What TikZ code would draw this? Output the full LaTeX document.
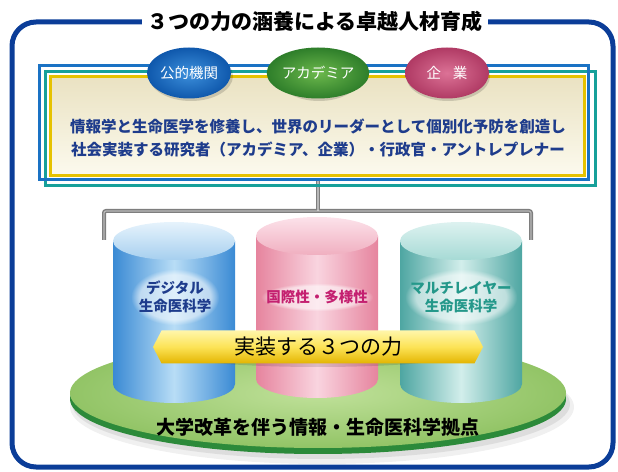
\documentclass[tikz,border=0pt]{standalone}
\usepackage{fontspec}
\setmainfont{Noto Sans CJK JP}
\usetikzlibrary{shapes.geometric,shapes.symbols,fadings}

\definecolor{frameblue}{HTML}{0B3D98}
\definecolor{lineblue}{HTML}{1A72C4}
\definecolor{lineteal}{HTML}{17A09A}
\definecolor{lineyellow}{HTML}{E6C200}
\definecolor{creamtop}{HTML}{EAE2C2}
\definecolor{creambot}{HTML}{FCFAEE}
\definecolor{textblue}{HTML}{1E3C8C}
\definecolor{textpink}{HTML}{C42070}
\definecolor{textteal}{HTML}{24988A}
\definecolor{pipegray}{HTML}{7E7E7E}
\definecolor{rimgreen}{HTML}{2C8A3A}
\definecolor{padin}{HTML}{C0E19A}
\definecolor{padout}{HTML}{92C466}
\definecolor{bannertop}{HTML}{FFF6AA}
\definecolor{bannermid}{HTML}{FCE356}
\definecolor{bannerbot}{HTML}{E3B400}
% badge colours
\definecolor{pubin}{HTML}{3D90DC}
\definecolor{pubout}{HTML}{0F58AC}
\definecolor{acadin}{HTML}{6CB84C}
\definecolor{acadout}{HTML}{2E7E2A}
\definecolor{corpin}{HTML}{DC7296}
\definecolor{corpout}{HTML}{B03A64}
% drum colours: side, middle, top dark, top light
\definecolor{bside}{HTML}{3A8AD4}
\definecolor{bmid}{HTML}{B8DDF6}
\definecolor{btopd}{HTML}{A6CFEF}
\definecolor{btopl}{HTML}{E6F3FC}
\definecolor{pside}{HTML}{E6849E}
\definecolor{pmid}{HTML}{F9D4DF}
\definecolor{ptopd}{HTML}{F0AFC0}
\definecolor{ptopl}{HTML}{FCE2EA}
\definecolor{tside}{HTML}{4EA6A2}
\definecolor{tmid}{HTML}{D2EEEB}
\definecolor{ttopd}{HTML}{A6DAD5}
\definecolor{ttopl}{HTML}{DDF2F0}

% a shaded drum: centre x, top centre y, bottom centre y, side, middle, top dark, top light
\newcommand{\drum}[7]{%
  \shade[left color=#4, right color=#4, middle color=#5]
    (#1-61,#2) -- (#1-61,#3) arc[start angle=180, end angle=360, x radius=61, y radius=19]
    -- (#1+61,#2) -- cycle;
  \shade[top color=#7, bottom color=#6] (#1,#2) ellipse[x radius=61, y radius=19];
}
% soft white glow behind a drum label: centre x, centre y, half width, half height
\newcommand{\softglow}[4]{%
  \fill[white, opacity=0.55, path fading=circle with fuzzy edge 20 percent]
    (#1-#3,#2-#4) rectangle (#1+#3,#2+#4);
}

\begin{document}
\begin{tikzpicture}[x=1pt, y=1pt,
  pipe/.style={draw=pipegray, line width=4, rounded corners=2},
  pipelight/.style={draw=white, opacity=0.45, line width=1.2, rounded corners=2},
  badge/.style={ellipse, minimum width=84, minimum height=51, inner sep=0,
    text=white, font=\fontsize{14.5}{14.5}\selectfont},
  drumtext/.style={font=\bfseries\fontsize{14.5}{14.5}\selectfont, align=center},
]
\useasboundingbox (0,0) rectangle (618,471);

% outer frame and title
\draw[frameblue, line width=5, rounded corners=24] (12,4) rectangle (613,449);
\node[fill=white, inner xsep=5, inner ysep=3,
  font=\bfseries\fontsize{21}{21}\selectfont] (title) at (315,449) {３つの力の涵養による卓越人材育成};

% connector from the message box to the three drums
\coordinate (bus) at (318,260);
\coordinate (hookL) at (104,231);
\coordinate (hookR) at (531,231);
\coordinate (hubtop) at (318,290);
\draw[pipe] (hubtop) -- (bus);
\draw[pipe] (hookL) |- (bus) -| (hookR);
\draw[pipelight] (hubtop) -- (bus);
\draw[pipelight] (hookL) |- (bus) -| (hookR);

% message box with its two outline frames
\draw[lineteal, line width=3] (45,285) rectangle (595,399);
\draw[lineblue, line width=3] (39,291) rectangle (588,405);
\node[draw=lineyellow, line width=3, top color=creamtop, bottom color=creambot,
  minimum width=534, minimum height=99, inner sep=0] (msg) at (317,344.5) {};
\node[text=textblue, font=\bfseries\fontsize{15.5}{15.5}\selectfont] (line1) at (318,345)
  {情報学と生命医学を修養し、世界のリーダーとして個別化予防を創造し};
\node[text=textblue, font=\bfseries\fontsize{15.5}{15.5}\selectfont] (line2) at (318,321)
  {社会実装する研究者（アカデミア、企業）・行政官・アントレプレナー};

% sector badges
\fill[black, opacity=0.15] (191,395) ellipse[x radius=42, y radius=25];
\fill[black, opacity=0.15] (319,395) ellipse[x radius=42, y radius=25];
\fill[black, opacity=0.15] (448,395) ellipse[x radius=42, y radius=25];
\node[badge, inner color=pubin, outer color=pubout] (pub) at (189,398) {公的機関};
\node[badge, inner color=acadin, outer color=acadout] (acad) at (318,398) {アカデミア};
\node[badge, inner color=corpin, outer color=corpout] (corp) at (447,398) {企\hspace{0.8em}業};

% platform
\fill[black, opacity=0.06] (322,64) ellipse[x radius=252, y radius=57];
\fill[black, opacity=0.08] (321,67) ellipse[x radius=249, y radius=55];
\fill[rimgreen] (318,72) ellipse[x radius=248, y radius=55];
\shade[inner color=padin, outer color=padout] (318,78) ellipse[x radius=248, y radius=55];
\node[font=\bfseries\fontsize{19}{19}\selectfont] (base) at (318,44)
  {大学改革を伴う情報・生命医科学拠点};

% three drums
\drum{174}{230}{87}{bside}{bmid}{btopd}{btopl}
\drum{317}{235}{92}{pside}{pmid}{ptopd}{ptopl}
\drum{461}{230}{87}{tside}{tmid}{ttopd}{ttopl}

\softglow{175}{174}{44}{28}
\softglow{317}{174}{56}{14}
\softglow{461}{174}{56}{28}
\node[drumtext, text=textblue] (digi) at (175,174) {デジタル\\[4pt]生命医科学};
\node[drumtext, text=textpink] (intl) at (317,174) {国際性・多様性};
\node[drumtext, text=textteal] (multi) at (461,174) {マルチレイヤー\\[4pt]生命医科学};

% banner across the drums
\fill[black, opacity=0.12] (318,121) ellipse[x radius=160, y radius=17];
\node[signal, signal to=west and east, signal pointer angle=125,
  minimum width=330, minimum height=33, inner sep=0,
  top color=bannertop, bottom color=bannerbot, middle color=bannermid,
  font=\fontsize{21}{21}\selectfont] (banner) at (318,124) {実装する３つの力};

\end{tikzpicture}
\end{document}
